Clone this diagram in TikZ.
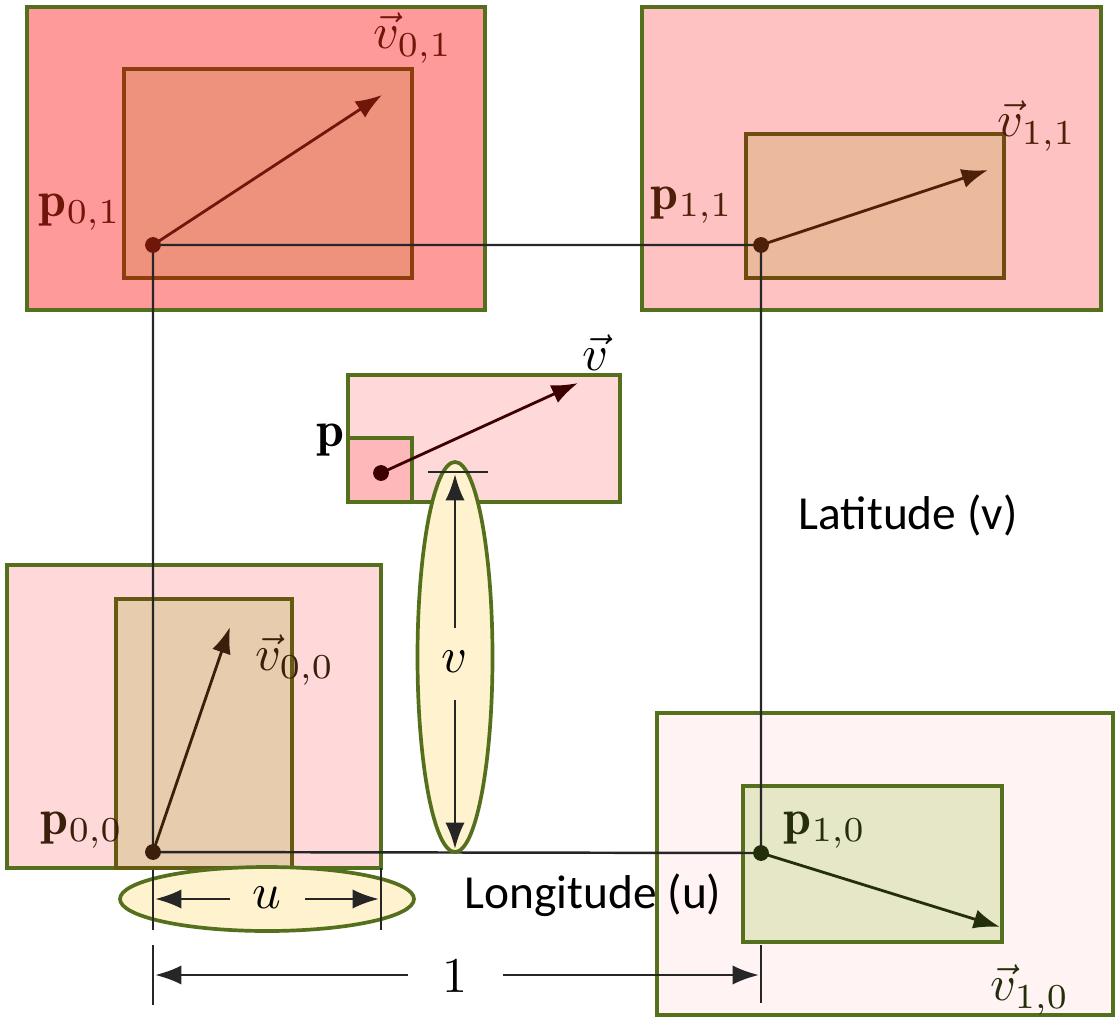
\documentclass[tikz,border=0pt]{standalone}
\usepackage{amsmath}
\usepackage{fontspec}
\newfontfamily\calib{Carlito}
\usetikzlibrary{arrows.meta}

\definecolor{boxgreen}{RGB}{84,112,28}
\definecolor{pinkA}{RGB}{255,154,154}
\definecolor{pinkB}{RGB}{255,194,194}
\definecolor{pinkC}{RGB}{255,216,218}
\definecolor{pinkD}{RGB}{255,243,244}
\definecolor{pinkS}{RGB}{255,184,186}
\definecolor{innerA}{RGB}{238,146,126}
\definecolor{innerB}{RGB}{235,185,155}
\definecolor{innerC}{RGB}{232,204,174}
\definecolor{innerD}{RGB}{230,231,199}
\definecolor{edgeA}{RGB}{140,62,12}
\definecolor{edgeB}{RGB}{110,76,16}
\definecolor{edgeC}{RGB}{100,90,18}
\definecolor{inkA}{RGB}{112,22,10}
\definecolor{inkB}{RGB}{78,32,10}
\definecolor{inkC}{RGB}{58,32,10}
\definecolor{inkD}{RGB}{36,46,10}
\definecolor{inkP}{RGB}{60,0,0}
\definecolor{ellyellow}{RGB}{255,242,206}

\newcommand{\lab}[1]{\scalebox{2.85}{$#1$}}

\begin{document}
\begin{tikzpicture}[x=0.02cm, y=-0.02cm, >={Latex[length=15pt,width=11pt]},
    box/.style={draw=boxgreen, line width=2.1pt},
    vec/.style={->, line width=1.6pt},
    dot/.style={circle, fill, inner sep=0pt, minimum size=9pt},
    lbl/.style={inner sep=0pt},
    gridline/.style={line width=1.4pt, black!85},
    ell/.style={draw=boxgreen, line width=2.1pt, fill=ellyellow},
    dim/.style={line width=1.4pt, black!85}]
    \useasboundingbox (0,0) rectangle (1115,1017);
    % corner boxes
    \draw[box, fill=pinkA] (27,7) rectangle (485,310);
    \draw[box, fill=pinkB] (642,7) rectangle (1101,310);
    \draw[box, fill=pinkC] (7,565) rectangle (381,868);
    \draw[box, fill=pinkD] (657,713) rectangle (1113,1015);
    \draw[draw=edgeA, line width=2.1pt, fill=innerA] (124,69) rectangle (412,278);
    \draw[draw=edgeB, line width=2.1pt, fill=innerB] (746,134) rectangle (1004,278);
    \draw[draw=edgeC, line width=2.1pt, fill=innerC] (116,599) rectangle (292,868);
    \draw[box, fill=innerD] (743,786) rectangle (1002,942);
    % interpolated point
    \draw[box, fill=pinkC] (348,375) rectangle (620,502);
    \draw[box, fill=pinkS] (348,438) rectangle (412,502);

    \coordinate (p00) at (153,852);
    \coordinate (p01) at (153,245);
    \coordinate (p11) at (761,245);
    \coordinate (p10) at (761,853);
    \coordinate (p) at (381,473);
    \coordinate (t00) at (230,627);
    \coordinate (t01) at (382,95);
    \coordinate (t11) at (988,170);
    \coordinate (t10) at (1000,927);
    \coordinate (t) at (578,383);

    \draw[gridline] (p01) -- (p11) -- (p10) -- (p00) -- cycle;

    % v ellipse
    \draw[ell] (455,657) ellipse [x radius=37.5, y radius=195];
    \coordinate (vtop) at (455,474);
    \coordinate (vbot) at (455,849);
    \draw[dim] (428,472) -- (488,472);
    \node[lbl] (vlab) at (455,662) {\lab{v}};
    \draw[vec, black!85] (455,628) -- (vtop);
    \draw[vec, black!85] (455,700) -- (vbot);

    % u ellipse
    \draw[ell] (267,899) ellipse [x radius=147, y radius=32];
    \draw[dim] (153,870) -- (153,930);
    \draw[dim] (381,868) -- (381,930);
    \node[lbl] (ulab) at (267,898) {\lab{u}};
    \draw[vec, black!85] (230,899) -- (155,899);
    \draw[vec, black!85] (305,899) -- (379,899);

    % unit length
    \draw[dim] (153,945) -- (153,1005);
    \draw[dim] (761,945) -- (761,1003);
    \node[lbl] (one) at (455,976) {\lab{1}};
    \draw[vec, black!85] (408,975) -- (155,975);
    \draw[vec, black!85] (503,975) -- (759,975);

    % vectors
    \draw[vec, inkA] (p01) -- (t01);
    \draw[vec, inkB] (p11) -- (t11);
    \draw[vec, inkC] (p00) -- (t00);
    \draw[vec, inkD] (p10) -- (t10);
    \draw[vec, inkP] (p) -- (t);
    \node[dot, inkA] at (p01) {};
    \node[dot, inkB] at (p11) {};
    \node[dot, inkC] at (p00) {};
    \node[dot, inkD] at (p10) {};
    \node[dot, inkP] at (p) {};

    % labels
    \node[lbl, inkA] (lp01) at (80,212) {\lab{\mathbf{p}_{0,1}}};
    \node[lbl, inkA] (lv01) at (413,38) {\lab{\vec{v}_{0,1}}};
    \node[lbl, inkB] (lp11) at (692,205) {\lab{\mathbf{p}_{1,1}}};
    \node[lbl, inkB] (lv11) at (1037,126) {\lab{\vec{v}_{1,1}}};
    \node[lbl, inkC] (lp00) at (82,830) {\lab{\mathbf{p}_{0,0}}};
    \node[lbl, inkC] (lv00) at (295,660) {\lab{\vec{v}_{0,0}}};
    \node[lbl, inkD] (lp10) at (825,830) {\lab{\mathbf{p}_{1,0}}};
    \node[lbl, inkD] (lv10) at (1030,990) {\lab{\vec{v}_{1,0}}};
    \node[lbl] (lp) at (330,440) {\lab{\mathbf{p}}};
    \node[lbl] (lv) at (596,353) {\lab{\vec{v}}};

    \node[font=\calib\fontsize{27}{32}\selectfont, inner sep=0pt] (lat) at (908,515) {Latitude (v)};
    \node[font=\calib\fontsize{27}{32}\selectfont, inner sep=0pt] (lon) at (593,895) {Longitude (u)};
\end{tikzpicture}
\end{document}
